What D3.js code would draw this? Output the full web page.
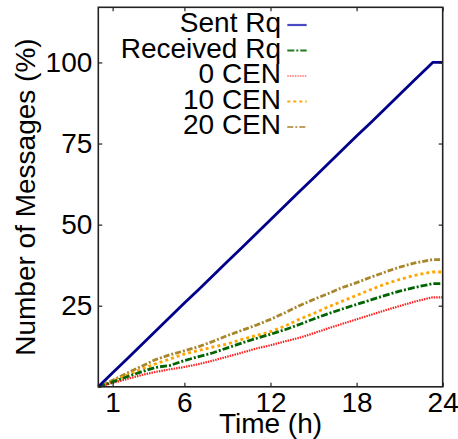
<!DOCTYPE html>
<html>
<head>
<meta charset="utf-8">
<script src="https://cdn.jsdelivr.net/npm/d3@7"></script>
<style>
  html, body { margin: 0; padding: 0; background: #fff; }
  svg text { font-family: "Liberation Sans", Arial, sans-serif; fill: #000; }
</style>
</head>
<body>
<svg id="chart" width="458" height="439"></svg>
<script>
// ---- data ----
const hours = [0,1,2,3,4,5,6,7,8,9,10,11,12,13,14,15,16,17,18,19,20,21,22,23,23.3,24];
const sentRq = [0,4.3,8.6,12.9,17.2,21.5,25.8,30.0,34.3,38.6,42.9,47.2,51.5,55.8,60.1,64.4,68.7,73.0,77.3,81.5,85.8,90.1,94.4,98.7,100,100];
const receivedRq = [0,1.5,3.1,4.6,6.0,6.6,8.1,9.3,10.5,12.0,13.5,14.9,16.2,17.6,19.2,20.9,22.5,24.0,25.4,26.8,28.2,29.5,30.6,31.5,31.8,31.8];
const cen0 = [0,1.2,2.4,3.6,4.6,5.4,6.1,7.0,8.1,9.3,10.5,11.8,12.8,14.0,15.1,16.5,18.0,19.4,20.8,22.2,23.6,24.9,26.2,27.3,27.6,27.6];
const cen10 = [0,1.7,3.6,5.4,7.1,8.6,10.1,11.2,12.3,13.2,14.6,15.8,17.0,18.7,20.8,22.6,24.6,26.4,28.2,30.0,31.7,33.1,34.3,35.2,35.4,35.4];
const cen20 = [0,2.0,4.2,6.3,8.4,9.9,11.1,12.4,14.0,15.8,17.4,19.0,20.8,22.8,25.0,26.9,28.7,30.6,32.1,33.8,35.4,36.9,38.1,39.0,39.2,39.2];
const seriesNames = ["Sent Rq","Received Rq","0 CEN","10 CEN","20 CEN"];
const xTicks = [1,6,12,18,24];
const yTicks = [25,50,75,100];
const xDomain = [0,24];
const yDomain = [0,117];

// ---- styles ----
const styles = [
  {data: sentRq,     color: "#00008b", legend: "#4a4ac4", dash: null,          width: 2.8},
  {data: receivedRq, color: "#006400", legend: "#1f7a1f", dash: "7,2,2,2",     width: 2.8},
  {data: cen0,       color: "#ff2020", legend: "#ff7070", dash: "1.5,1",       width: 2.2},
  {data: cen10,      color: "#ffa500", legend: "#ffa500", dash: "3,3",         width: 2.8},
  {data: cen20,      color: "#a8862c", legend: "#c0a060", dash: "6,2,2,2",     width: 2.8}
];

const svg = d3.select("#chart");
const m = {left: 98.3, right: 442.7, top: 7.3, bottom: 386.8};
const x = d3.scaleLinear().domain(xDomain).range([m.left, m.right]);
const y = d3.scaleLinear().domain(yDomain).range([m.bottom, m.top]);
const FS = 28;

// lines
const line = d3.line().x((d,i) => x(hours[i])).y(d => y(d));
const plot = svg.append("g");
[4,3,2,1,0].forEach(k => {
  const s = styles[k];
  plot.append("path")
    .datum(s.data)
    .attr("d", line)
    .attr("fill", "none")
    .attr("stroke", s.color)
    .attr("stroke-width", s.width)
    .attr("stroke-dasharray", s.dash)
    .attr("stroke-linejoin", "round");
});

// axes (ticks inward on all four sides)
const tl = 4;
const axB = d3.axisBottom(x).tickValues(xTicks).tickSizeInner(-tl).tickSizeOuter(0).tickPadding(10);
const axT = d3.axisTop(x).tickValues(xTicks).tickSizeInner(-tl).tickSizeOuter(0).tickFormat("");
const axL = d3.axisLeft(y).tickValues(yTicks).tickSizeInner(-tl).tickSizeOuter(0).tickPadding(10);
const axR = d3.axisRight(y).tickValues(yTicks).tickSizeInner(-tl).tickSizeOuter(0).tickFormat("");

const gB = svg.append("g").attr("transform", `translate(0,${m.bottom})`).call(axB);
const gT = svg.append("g").attr("transform", `translate(0,${m.top})`).call(axT);
const gL = svg.append("g").attr("transform", `translate(${m.left},0)`).call(axL);
const gR = svg.append("g").attr("transform", `translate(${m.right},0)`).call(axR);
[gB,gT,gL,gR].forEach(g => {
  g.select(".domain").remove();
  g.selectAll(".tick line").attr("stroke", "#222").attr("stroke-width", 1.2);
});
gB.selectAll(".tick text").attr("font-size", FS).attr("dy", null).attr("y", 25.5)
  .style("font-family", '"Liberation Sans", Arial, sans-serif').attr("fill", "#000");
gL.selectAll(".tick text").attr("font-size", FS).attr("dy", null).attr("y", 9).attr("x", -6)
  .style("font-family", '"Liberation Sans", Arial, sans-serif').attr("fill", "#000");

// frame
svg.append("rect")
  .attr("x", m.left).attr("y", m.top)
  .attr("width", m.right - m.left).attr("height", m.bottom - m.top)
  .attr("fill", "none").attr("stroke", "#222").attr("stroke-width", 1.6);

// axis titles
svg.append("text")
  .attr("x", (m.left + m.right) / 2).attr("y", 433)
  .attr("text-anchor", "middle").attr("font-size", FS)
  .text("Time (h)");
svg.append("text")
  .attr("transform", `translate(35,${(m.top + m.bottom) / 2}) rotate(-90)`)
  .attr("text-anchor", "middle").attr("font-size", FS)
  .text("Number of Messages (%)");

// legend
const lg = svg.append("g");
const legY0 = 25, legDy = 25.5;
seriesNames.forEach((name, i) => {
  const s = styles[i];
  const ly = legY0 + i * legDy;
  lg.append("text")
    .attr("x", 281).attr("y", ly + 7)
    .attr("text-anchor", "end").attr("font-size", 28)
    .text(name);
  lg.append("line")
    .attr("x1", 287.3).attr("x2", 306.7).attr("y1", ly).attr("y2", ly)
    .attr("stroke", s.legend).attr("stroke-width", s.width - 0.6)
    .attr("stroke-dasharray", s.dash);
});
</script>
</body>
</html>
